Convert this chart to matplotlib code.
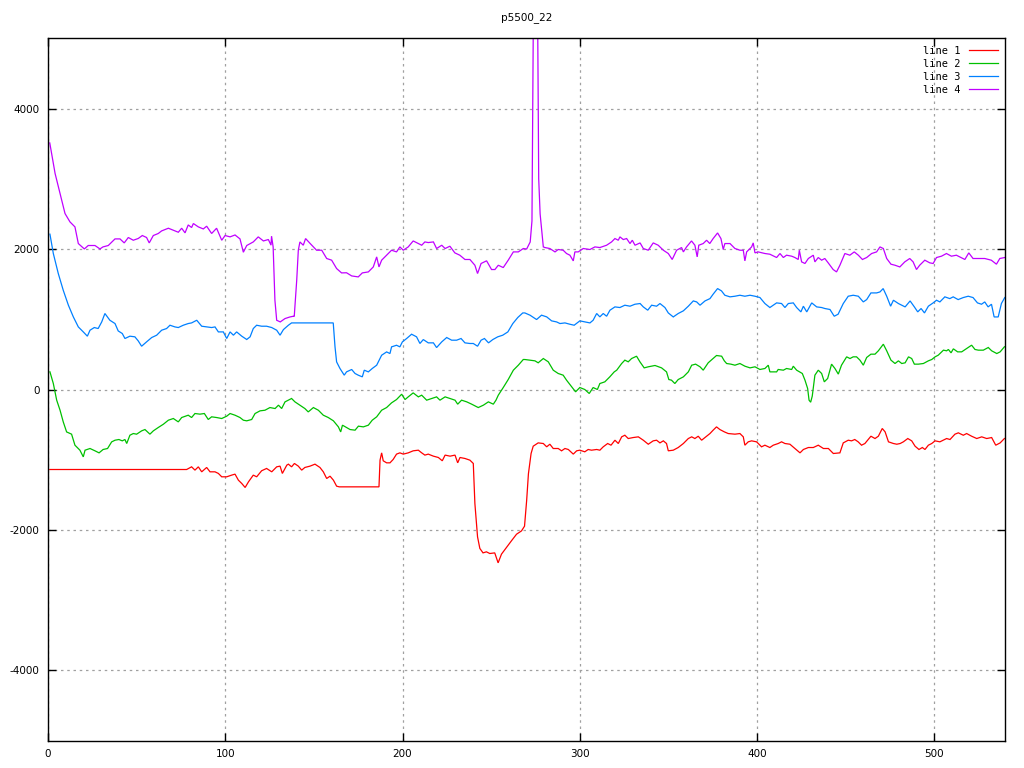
import matplotlib
matplotlib.use("Agg")
import matplotlib.pyplot as plt

# ---- data (x, value) ----
line1_pts = [(1, -1139), (78.2, -1139), (81, -1101), (82.9, -1148), (84.8, -1101), (86.7, -1172), (89.5, -1110),
    (91.4, -1172), (94.2, -1172), (96.1, -1195), (98, -1243), (100.8, -1243), (103.6, -1219), (105.5, -1205),
    (107.4, -1291), (109.3, -1338), (111.2, -1395), (113.1, -1314), (115.8, -1219), (117.7, -1243), (120.5, -1157),
    (123.3, -1124), (126.2, -1172), (129, -1101), (130.9, -1091), (132.2, -1195), (134.7, -1077), (135.6, -1063),
    (137.4, -1101), (139, -1053), (141.2, -1091), (143.1, -1148), (144.9, -1110), (147.8, -1091), (150.6, -1063),
    (153.4, -1110), (155.3, -1172), (157.2, -1267), (159.1, -1234), (161, -1291), (162.8, -1376), (164.3, -1386),
    (186.7, -1386), (187.3, -1006), (188.2, -902), (189.1, -1015), (191, -1044), (192.9, -1044), (194.7, -996),
    (196.6, -920), (198.5, -902), (200.4, -920), (203.2, -902), (206, -873), (208.9, -864), (210.8, -902),
    (212.6, -934), (214.5, -920), (217.4, -949), (220.2, -968), (222.4, -1015), (224, -934), (226.8, -949),
    (229.6, -934), (231.1, -1044), (232.4, -968), (235.2, -982), (238, -1006), (239.9, -1053), (240.8, -1623),
    (242.3, -2098), (243.6, -2263), (245.4, -2326), (247.3, -2311), (249.2, -2335), (252, -2326), (253.9, -2468),
    (255.8, -2344), (258.6, -2249), (261.4, -2155), (264.3, -2060), (267.1, -2013), (268.8, -1946), (270, -1580),
    (271, -1200), (272.5, -911), (273.7, -807), (276.5, -760), (279.4, -769), (281.3, -816), (283.1, -779),
    (285, -840), (287.8, -840), (289.7, -873), (291.6, -840), (293.5, -854), (296.3, -920), (298.2, -873),
    (300, -864), (302.8, -887), (304.7, -854), (306.6, -864), (309.5, -854), (311.3, -864), (313.2, -816),
    (315.7, -769), (317.6, -793), (319.8, -722), (321.7, -769), (323.6, -674), (325.4, -651), (327.3, -698),
    (330.1, -684), (333, -674), (335.8, -722), (338.6, -779), (341.4, -731), (343.3, -722), (345.2, -760),
    (347.1, -731), (348.9, -769), (349.9, -873), (352.7, -864), (355.5, -826), (358.4, -769), (361.2, -698),
    (363.1, -674), (364.9, -698), (366.8, -665), (368.7, -722), (370.6, -684), (373.4, -627), (375.2, -579),
    (377.1, -532), (379, -570), (381.5, -603), (383.7, -627), (387.5, -636), (390.3, -627), (392.2, -674),
    (393.1, -793), (395, -745), (396.9, -731), (399.7, -745), (402.5, -816), (404.4, -793), (407.2, -826),
    (409.1, -793), (411.9, -769), (413.8, -745), (415.7, -769), (418.5, -779), (421.3, -840), (424.2, -902),
    (426.1, -854), (428.9, -826), (431.7, -826), (434.5, -793), (437.4, -840), (440.2, -840), (443, -911),
    (446.7, -902), (448.6, -760), (451.4, -722), (453.3, -731), (455.1, -712), (457, -745), (458.9, -793),
    (460.8, -769), (464.2, -665), (466.5, -698), (468.4, -665), (470.6, -555), (472.2, -603), (474.1, -745),
    (476.9, -769), (478.8, -779), (480.7, -769), (482.5, -745), (485, -698), (487.2, -731), (489.1, -807),
    (491.3, -854), (493.2, -826), (494.7, -854), (496.6, -793), (498.5, -769), (500.4, -731), (503.1, -745),
    (506.9, -698), (508.8, -712), (511.6, -636), (513.5, -617), (516.3, -651), (518.2, -627), (521, -665),
    (523.9, -698), (526.7, -674), (529.5, -698), (532.3, -684), (534.6, -793), (537.1, -760), (539.5, -698)]

line2_pts = [(1.1, 251), (3, 85), (4.9, -152), (6.8, -295), (8.6, -461), (10.5, -604), (13.3, -636), (15.2, -793),
    (18, -864), (19.9, -959), (20.9, -864), (23.7, -840), (26.5, -873), (28.8, -902), (31.1, -854), (33.6, -840),
    (35.9, -746), (37.8, -722), (40, -712), (41.9, -731), (43.4, -712), (44.4, -769), (46.2, -651), (48.1, -627),
    (50, -636), (52.8, -589), (54.7, -570), (57.5, -636), (59.4, -589), (62.2, -541), (65.1, -494), (67.9, -437),
    (70.7, -413), (73.5, -461), (75.4, -399), (79.1, -366), (81, -399), (82.9, -342), (85.7, -351), (88.2, -342),
    (90.4, -427), (92.3, -389), (95.1, -399), (98, -413), (100.8, -380), (102.7, -342), (105.5, -366),
    (108.3, -399), (110.2, -437), (112.1, -446), (114.9, -427), (116.8, -342), (119.6, -304), (122.4, -295),
    (125.2, -257), (128.1, -271), (130, -223), (131.8, -271), (133.7, -176), (135.6, -152), (137.4, -128),
    (139.3, -176), (142.1, -223), (144.9, -271), (146.8, -319), (149.7, -257), (152.5, -295), (155.3, -366),
    (158.1, -399), (161, -446), (163.8, -532), (165.1, -604), (166.1, -508), (168.4, -541), (170.4, -570),
    (173.2, -579), (175.1, -522), (177.9, -532), (180.7, -508), (182.9, -437), (185.4, -389), (188.2, -295),
    (191, -257), (193.8, -190), (196.6, -143), (199.5, -67), (201.4, -143), (203.2, -105), (206, -48),
    (208.9, -105), (210.8, -81), (213.6, -152), (216.4, -128), (219.2, -105), (221.1, -152), (224, -105),
    (226.8, -128), (229.6, -152), (231.1, -209), (233.3, -152), (236.2, -176), (239, -209), (242.7, -257),
    (245.6, -223), (248.4, -176), (251.2, -209), (252.7, -152), (254, -81), (256.8, 28), (259.6, 142),
    (262.5, 275), (265.3, 346), (268.1, 427), (269, 427), (271.9, 418), (274.7, 408), (276.5, 380), (279.4, 441),
    (282.2, 394), (285, 275), (287.8, 228), (290.6, 204), (292.5, 133), (295.4, 38), (297.6, -33), (300, 28),
    (302.8, 0), (305.3, -57), (307.5, 28), (309.9, 0), (311.3, 85), (314.1, 109), (316.9, 180), (319.4, 251),
    (320.8, 275), (323.6, 370), (325.4, 418), (327.3, 394), (329.2, 441), (332, 474), (333.9, 394), (336.3, 308),
    (338.6, 323), (342.4, 342), (346.1, 308), (348.9, 251), (350.2, 142), (351.7, 133), (353.6, 85), (355.5, 142),
    (358.4, 180), (361.2, 251), (363.1, 346), (365.3, 361), (367.8, 323), (369.6, 275), (371.5, 346),
    (372.4, 380), (375.2, 441), (377.1, 484), (380, 474), (381.5, 408), (382.8, 370), (385.2, 361), (387.5, 346),
    (390.3, 370), (393.1, 332), (396, 308), (398.8, 323), (401.6, 285), (404.4, 299), (406.3, 346), (407.2, 251),
    (411, 251), (411.9, 285), (414.8, 275), (416.6, 299), (419.5, 285), (420.4, 332), (422.3, 275), (425.5, 228),
    (427, 133), (428.5, 14), (429.3, -152), (430.2, -181), (431.1, -95), (432.6, 204), (434.5, 275), (436.4, 228),
    (437.9, 109), (439.8, 157), (442, 361), (443.9, 299), (445.8, 219), (447.6, 346), (450.5, 465), (452.4, 441),
    (454.2, 465), (456.1, 465), (458, 418), (459.9, 346), (461.8, 456), (464.2, 503), (466.5, 503), (468.4, 551),
    (471.2, 645), (473.1, 551), (475.5, 418), (477.8, 370), (479.7, 408), (481.6, 370), (483.5, 380),
    (485.4, 465), (487.2, 441), (488.7, 361), (491, 361), (493.8, 370), (496.6, 408), (498.5, 427), (500.4, 465),
    (502.2, 489), (505.1, 560), (506.9, 551), (507.9, 570), (509.4, 522), (510.7, 579), (513.1, 536),
    (515.4, 536), (518.2, 584), (521, 631), (522.9, 570), (524.8, 560), (527.6, 560), (530.4, 598), (532.3, 551),
    (535.2, 512), (537.1, 536), (539.5, 608)]

line3_pts = [(1.1, 2211), (3, 1936), (5.8, 1651), (8.6, 1413), (11.5, 1200), (14.3, 1033), (17.1, 891), (19.9, 820),
    (22.2, 759), (23.7, 844), (26.1, 882), (28.3, 868), (30.3, 962), (32.1, 1082), (34.9, 986), (37.8, 939),
    (39.6, 834), (41.9, 797), (43.4, 726), (46.2, 759), (49, 750), (50.9, 692), (52.8, 616), (55.6, 678),
    (58.5, 740), (61.3, 773), (64.1, 844), (66.9, 868), (68.8, 915), (71.6, 891), (73.5, 882), (76.3, 915),
    (79.1, 939), (81, 948), (83.9, 986), (86.7, 901), (89.5, 891), (92.3, 882), (94.2, 891), (96.1, 820),
    (98.9, 820), (100.8, 726), (102.7, 820), (104.6, 773), (106.4, 820), (109.3, 759), (112.1, 712), (114, 750),
    (115.8, 868), (117.7, 915), (120.5, 901), (123.3, 901), (126.2, 882), (129, 844), (130.9, 773), (132.8, 853),
    (135.6, 915), (137.4, 948), (160.9, 948), (161.9, 607), (162.8, 393), (164.7, 299), (167.1, 204),
    (168.4, 251), (171.3, 285), (173.2, 228), (175, 204), (177.3, 180), (178.4, 275), (180.7, 251), (182.9, 299),
    (185.4, 346), (188.2, 488), (191, 535), (192.9, 512), (193.8, 607), (196.6, 630), (198.5, 607), (199.9, 678),
    (202.3, 726), (205.1, 787), (207.9, 750), (209.8, 655), (211.7, 711), (214.5, 664), (217.4, 664),
    (219.2, 597), (222.1, 678), (224.9, 740), (227.7, 702), (230.5, 702), (233, 726), (235.2, 664), (238, 655),
    (239.9, 655), (242.3, 616), (244.3, 702), (246.2, 726), (248.5, 664), (250.9, 711), (253.7, 750),
    (256.5, 773), (259.4, 820), (262.2, 939), (265, 1025), (267.8, 1090), (269, 1090), (271.9, 1058),
    (275.6, 996), (278.4, 1058), (281.3, 1034), (284.1, 977), (286.9, 962), (288.8, 939), (291.6, 948),
    (294.4, 929), (296.8, 915), (300, 977), (302.8, 962), (305.7, 948), (307.5, 986), (309.5, 1082),
    (311.3, 1034), (313.2, 1082), (315.1, 1043), (317, 1129), (319.8, 1176), (322.6, 1167), (325.4, 1200),
    (328.3, 1186), (331.1, 1214), (334, 1224), (335.8, 1176), (338.3, 1129), (340.5, 1200), (343.3, 1186),
    (345.2, 1224), (348, 1167), (349.9, 1090), (352.7, 1033), (355.5, 1082), (358.4, 1120), (361.2, 1186),
    (364, 1261), (365.9, 1247), (367.8, 1200), (370.6, 1261), (373.4, 1294), (375.2, 1357), (377.7, 1437),
    (379.9, 1404), (381.8, 1342), (384.7, 1319), (387.5, 1328), (390.3, 1342), (393.1, 1328), (396, 1342),
    (398.8, 1328), (401.6, 1309), (404.4, 1224), (407.2, 1167), (411, 1233), (413.8, 1224), (415.7, 1167),
    (417.6, 1224), (420.4, 1233), (422.3, 1167), (424.7, 1105), (426.1, 1186), (428, 1105), (430.8, 1233),
    (433.6, 1176), (436.4, 1167), (438.2, 1153), (441.1, 1139), (443.5, 1043), (445.7, 1072), (448.6, 1224),
    (451.4, 1328), (454.2, 1342), (457.1, 1328), (459.9, 1247), (461.8, 1280), (464.2, 1375), (467.4, 1375),
    (469.3, 1389), (471.1, 1437), (473.1, 1328), (475.3, 1186), (476.9, 1271), (479.7, 1224), (481.6, 1200),
    (483.5, 1176), (486.3, 1261), (488.7, 1176), (490.6, 1105), (492.5, 1153), (494.4, 1090), (496.6, 1186),
    (499.3, 1233), (501.2, 1271), (503.1, 1247), (505.9, 1319), (508.7, 1294), (510.6, 1319), (513.4, 1280),
    (516.3, 1309), (519.1, 1328), (521.8, 1309), (524.3, 1233), (526.6, 1214), (528.4, 1247), (530.3, 1176),
    (532.2, 1214), (533.7, 1033), (536, 1033), (537.8, 1224), (539.7, 1309)]

line4_pts = [(1, 3510), (4, 3075), (6.8, 2790), (9.6, 2505), (12.4, 2386), (15.2, 2315), (17.1, 2078), (20.5, 2001),
    (22.7, 2050), (26.5, 2050), (29.3, 2001), (31, 2030), (34, 2050), (37.8, 2144), (40.6, 2144), (43, 2087),
    (45.3, 2164), (48.1, 2125), (50.9, 2150), (53.2, 2192), (55.6, 2164), (57.1, 2087), (59.4, 2192),
    (62.2, 2221), (64.1, 2258), (67.9, 2296), (70.7, 2268), (73.5, 2239), (75.4, 2296), (77.3, 2230),
    (79.1, 2343), (81, 2306), (82, 2363), (84.8, 2315), (87.6, 2286), (89.5, 2325), (92.3, 2221), (95.1, 2296),
    (98, 2125), (99.9, 2192), (102.7, 2173), (105.5, 2200), (108.3, 2144), (110.2, 1954), (112.1, 2050),
    (115.8, 2101), (118.6, 2173), (121.5, 2115), (124.3, 2135), (125.8, 2055), (126.1, 2183), (127, 2030),
    (128, 1271), (129, 986), (131, 962), (133.7, 1010), (136.5, 1033), (138.4, 1043), (138.9, 1040),
    (140.3, 1556), (141.2, 1983), (142.1, 2101), (144, 2054), (145.3, 2149), (147.9, 2078), (151.5, 1983),
    (154.4, 1983), (157.2, 1865), (160, 1841), (162.8, 1722), (165.6, 1660), (168.4, 1662), (171.3, 1617),
    (175, 1603), (177.3, 1660), (180.7, 1674), (183.5, 1745), (185.4, 1888), (186.7, 1745), (188.2, 1841),
    (191, 1912), (193.8, 1983), (196.6, 1959), (198.5, 2030), (200.4, 1983), (203.2, 2030), (206, 2115),
    (208.9, 2078), (210.8, 2054), (212.6, 2101), (214.5, 2092), (217.4, 2101), (219.2, 2007), (222.1, 2054),
    (224, 2007), (226.7, 2040), (229.5, 1945), (232.3, 1912), (235.2, 1851), (238, 1851), (240.8, 1769),
    (242.3, 1651), (244.3, 1794), (247.4, 1832), (250.2, 1708), (252.1, 1708), (254, 1769), (256.8, 1736),
    (259.6, 1841), (262.5, 1959), (265.3, 1959), (268.1, 2007), (270, 2000), (272, 2100), (273, 2400),
    (274.5, 8000), (275.5, 8000), (276.8, 3000), (277.6, 2500), (279.4, 2030), (280.3, 2021), (283.1, 2007),
    (286, 1959), (287.8, 1993), (290.6, 1983), (292.5, 1936), (294.4, 1912), (296.3, 1831), (297.2, 1959),
    (299.1, 1959), (301.9, 2007), (305.7, 1993), (308.5, 2030), (311.3, 2021), (315.1, 2054), (317.9, 2101),
    (319.8, 2149), (321.7, 2125), (322.6, 2173), (324.5, 2135), (326.4, 2149), (328.3, 2078), (329.6, 2125),
    (331.1, 2054), (334, 2087), (335.8, 2007), (338.6, 1983), (341.4, 2087), (344.2, 2054), (347.1, 1983),
    (349.9, 1936), (352.1, 1851), (354.6, 1983), (357.4, 2021), (358.4, 1959), (360.2, 2030), (363, 2115),
    (364.9, 2054), (366.2, 1888), (367.1, 2054), (369.6, 2078), (371.5, 2125), (373.3, 2078), (375.2, 2149),
    (377.7, 2229), (379.6, 2149), (380.9, 1993), (381.8, 2078), (384.7, 2078), (387.5, 2007), (390.3, 1983),
    (392.2, 1983), (393.1, 1831), (394.1, 1959), (396.9, 2030), (397.8, 2087), (398.8, 1945), (400.6, 1959),
    (404.4, 1936), (407.2, 1926), (411, 1879), (412.9, 1936), (414.8, 1879), (416.6, 1912), (419.5, 1898),
    (421.3, 1879), (423.2, 1851), (423.8, 1983), (425.1, 1817), (427, 1794), (428.9, 1865), (431.7, 1912),
    (432.6, 1817), (434.5, 1879), (436.4, 1841), (438.2, 1865), (440.1, 1803), (442.9, 1708), (444.8, 1674),
    (446.7, 1769), (449.5, 1936), (452.3, 1912), (454.8, 1959), (457.1, 1912), (459.4, 1851), (461.8, 1879),
    (464.6, 1936), (467.4, 1959), (469.3, 2030), (471.2, 2007), (473.1, 1865), (475.5, 1784), (477.8, 1769),
    (480.5, 1745), (483.3, 1817), (486.1, 1865), (488, 1817), (489.9, 1708), (491.7, 1769), (494.6, 1841),
    (497.4, 1803), (499.3, 1794), (501.2, 1879), (504, 1898), (506.8, 1936), (509.6, 1898), (512.4, 1912),
    (517.2, 1851), (519.4, 1945), (521.8, 1865), (524.6, 1865), (528.4, 1865), (532.1, 1841), (535, 1784),
    (536.9, 1865), (539.7, 1879)]

series_labels = ["line 1", "line 2", "line 3", "line 4"]
series_colors = ["#ff0000", "#00c000", "#0080ff", "#c000ff"]
x_ticks = [0, 100, 200, 300, 400, 500]
y_ticks = [-4000, -2000, 0, 2000, 4000]
title_text = "p5500_22"

plt.rcParams["axes.unicode_minus"] = False
plt.rcParams["font.family"] = ["DejaVu Sans"]

fig = plt.figure(figsize=(10.24, 7.68), dpi=100)
ax = fig.add_axes([48 / 1024, 1 - 740.7 / 768, (1005.3 - 48) / 1024, (740.7 - 38.3) / 768])

for pts, lab, col in zip([line1_pts, line2_pts, line3_pts, line4_pts], series_labels, series_colors):
    xs = [p[0] for p in pts]
    ys = [p[1] for p in pts]
    ax.plot(xs, ys, color=col, lw=0.9, label=lab, solid_joinstyle="miter")

ax.set_xlim(0, 540)
ax.set_ylim(-5000, 5000)
ax.set_xticks(x_ticks)
ax.set_yticks(y_ticks)
ax.set_xticklabels([str(v) for v in x_ticks])
ax.set_yticklabels([str(v) for v in y_ticks])
ax.grid(True, color="#a0a0a0", linestyle=(0, (2, 3)), linewidth=0.9)
ax.set_axisbelow(True)
ax.tick_params(direction="in", length=6, width=1.0, top=True, right=True,
               labelsize=7.5, pad=6, colors="black")
for sp in ax.spines.values():
    sp.set_linewidth(1.0)
    sp.set_color("black")

# title centred over the plot area, as in the reference
ax.set_title(title_text, fontsize=7.5, pad=13)

ax.legend(loc="upper right", frameon=False, markerfirst=False,
          handlelength=2.8, handletextpad=0.8, labelspacing=0.3,
          borderaxespad=0.3, prop={"family": "DejaVu Sans Mono", "size": 7.5})

fig.savefig("out.png", dpi=100)
